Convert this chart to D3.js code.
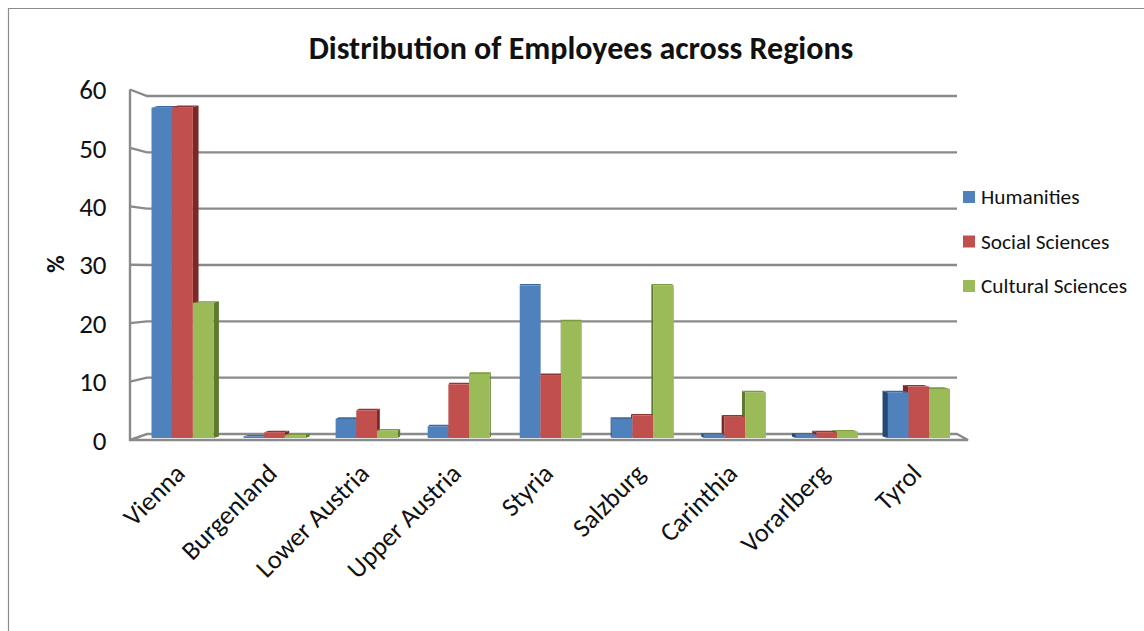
<!DOCTYPE html>
<html><head><meta charset="utf-8">
<script src="https://cdn.jsdelivr.net/npm/d3@7/dist/d3.min.js"></script>
<style>html,body{margin:0;padding:0;background:#fff}svg{display:block}text{font-family:Carlito,Lato,"Open Sans",sans-serif;fill:#111}</style>
</head><body><svg id="c" width="1144" height="631"></svg>
<script>
const categories=["Vienna","Burgenland","Lower Austria","Upper Austria","Styria","Salzburg","Carinthia","Vorarlberg","Tyrol"];
const seriesNames=["Humanities","Social Sciences","Cultural Sciences"];
const humanities=[57.2,0.3,3.3,2,26.4,3.3,0.6,0.6,7.9];
const socialSciences=[57.3,1,4.8,9.3,10.9,3.9,3.7,1,8.9];
const culturalSciences=[23.4,0.5,1.3,11.1,20.2,26.4,7.9,1.1,8.5];
const yTicks=[0,10,20,30,40,50,60];
const colors=["#4F81BD","#C0504D","#9BBB59"];
const sideColors=["#264a73","#7a2a28","#5f7a2e"];
const topColors=["#3d6a9e","#8f3533","#7b9a40"];
const seriesValues=[humanities,socialSciences,culturalSciences];

const svg=d3.select("#c");
const defs=svg.append("defs");
defs.append("filter").attr("id","soft").append("feGaussianBlur").attr("stdDeviation",0.45);
const front=d3.scaleLinear().domain([0,60]).range([440,89.5]);
const back=d3.scaleLinear().domain([0,60]).range([434,96]);
const barY=d3.scaleLinear().domain([0,60]).range([438,91.5]);
const x=d3.scaleBand().domain(categories).range([136.5,965]).paddingInner(0.326).paddingOuter(0.163);
const xs=d3.scaleBand().domain(d3.range(3)).range([0,x.bandwidth()]);
const persp=d3.scaleLinear().domain([130,968]).range([6.5,-6.5]);
const gray="#8a8a8a";

// page frame
svg.append("path").attr("d","M8.5,631V8.5H1144").attr("fill","none").attr("stroke","#8c8c8c").attr("stroke-width",1.2);

svg.append("text").attr("x",581).attr("y",59).attr("text-anchor","middle").attr("font-size",32).attr("font-weight",700).text("Distribution of Employees across Regions");

// walls and gridlines
const g=svg.append("g").attr("stroke",gray).attr("stroke-width",2.4).attr("fill","none").attr("filter","url(#soft)");
g.selectAll("path.grid").data(yTicks.slice(1)).join("path").attr("class","grid")
 .attr("d",v=>`M130,${front(v)}L147,${back(v)}H957`);
g.append("path").attr("d",`M130,${front(60)}V${front(0)}H968L957,${back(0)}H147L130,${front(0)}`);

// bars
const bars=[];
categories.forEach((c,i)=>seriesValues.forEach((vals,s)=>bars.push({c,s,v:vals[i]})));
const gb=svg.append("g").attr("filter","url(#soft)");
const geo=d=>{const x0=x(d.c)+xs(d.s),x1=x0+xs.bandwidth(),y=barY(d.v),b=barY(0);return{x0,x1,y,b,dx:persp((x0+x1)/2),dy:Math.min(1.6,1+d.v)};};
gb.selectAll("path.side").data(bars).join("path").attr("class","side")
 .attr("fill",d=>sideColors[d.s])
 .attr("d",d=>{const o=geo(d);const ex=o.dx>=0?o.x1:o.x0;return `M${ex},${o.y}L${ex+o.dx},${o.y-o.dy}V${o.b-o.dy}L${ex},${o.b}Z`;});
gb.selectAll("path.top").data(bars).join("path").attr("class","top")
 .attr("fill",d=>topColors[d.s])
 .attr("d",d=>{const o=geo(d);return `M${o.x0},${o.y}L${o.x0+o.dx},${o.y-o.dy}H${o.x1+o.dx}L${o.x1},${o.y}Z`;});
gb.selectAll("rect.front").data(bars).join("rect").attr("class","front")
 .attr("x",d=>geo(d).x0).attr("width",xs.bandwidth())
 .attr("y",d=>geo(d).y).attr("height",d=>geo(d).b-geo(d).y)
 .attr("fill",d=>colors[d.s]);

// axes
const ay=svg.append("g").attr("transform","translate(130,0)").call(d3.axisLeft(front).tickValues(yTicks).tickSize(0).tickPadding(23.5));
ay.select(".domain").remove();
ay.selectAll("text").attr("font-size",27).attr("dy","0.34em").attr("fill","#111");
svg.append("text").attr("transform","translate(64,264) rotate(-90)").attr("text-anchor","middle").attr("font-size",24).attr("font-weight",700).text("%");

const ax=svg.append("g").attr("transform","translate(0,440)").call(d3.axisBottom(x).tickSize(0).tickPadding(0));
ax.select(".domain").remove();
ax.selectAll("text").attr("font-size",26.3).attr("text-anchor","end").attr("fill","#111").attr("dy",0)
 .attr("transform","translate(4,35) rotate(-45)").attr("y",0).attr("x",0);

// legend
const ly=d3.scalePoint().domain(seriesNames).range([197,286]);
const lg=svg.append("g").selectAll("g").data(seriesNames).join("g").attr("transform",d=>`translate(963,${ly(d)})`);
lg.append("rect").attr("x",0).attr("y",-6).attr("width",12).attr("height",12).attr("fill",(d,i)=>colors[i]);
lg.append("text").attr("x",18).attr("dy","0.35em").attr("font-size",21.3).text(d=>d);
</script></body></html>
